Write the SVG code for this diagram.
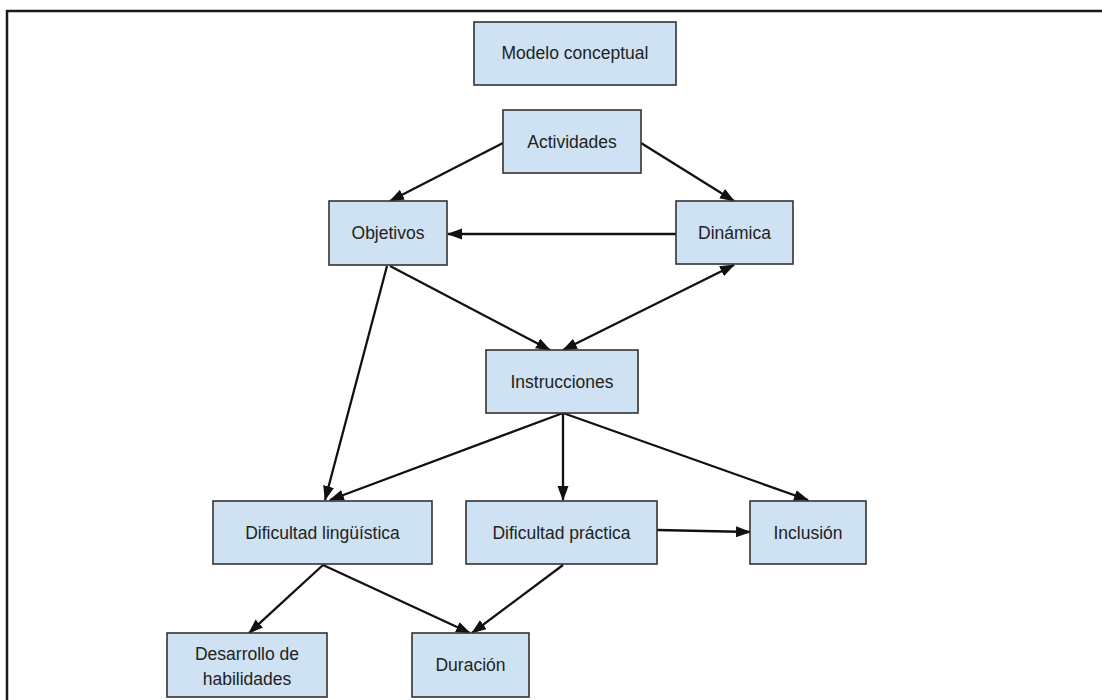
<svg xmlns="http://www.w3.org/2000/svg" width="1102" height="700" viewBox="0 0 1102 700">
<style>
.box{fill:#cfe2f3;stroke:#333;stroke-width:1.6}
.lbl{font-family:"Liberation Sans",Arial,sans-serif;font-size:17.5px;fill:#222;text-anchor:middle}
.edge{stroke:#111;stroke-width:2.3;fill:none}
</style>
<defs>
<marker id="ah" markerUnits="userSpaceOnUse" markerWidth="15" markerHeight="12" refX="14" refY="5.5" orient="auto-start-reverse">
<path d="M0,0 L15,5.5 L0,11 z" fill="#111"/>
</marker>
</defs>
<rect width="1102" height="700" fill="#fff"/>
<path d="M7,700 L7,11 L1102,11" fill="none" stroke="#1a1a1a" stroke-width="2.5"/>
<g id="connectors">
<path class="edge" d="M503,143 L390,201" marker-end="url(#ah)"/>
<path class="edge" d="M641,143 L734,201" marker-end="url(#ah)"/>
<path class="edge" d="M676,234 L448,234" marker-end="url(#ah)"/>
<path class="edge" d="M390,266 L550,350" marker-end="url(#ah)"/>
<path class="edge" d="M563,350 L734,265" marker-start="url(#ah)" marker-end="url(#ah)"/>
<path class="edge" d="M387,266 L325,500" marker-end="url(#ah)"/>
<path class="edge" d="M563,413 L330,500" marker-end="url(#ah)"/>
<path class="edge" d="M563,413 L563,500" marker-end="url(#ah)"/>
<path class="edge" d="M563,413 L808,500" marker-end="url(#ah)"/>
<path class="edge" d="M657,530 L750,532" marker-end="url(#ah)"/>
<path class="edge" d="M323,565 L249,633" marker-end="url(#ah)"/>
<path class="edge" d="M323,565 L470,633" marker-end="url(#ah)"/>
<path class="edge" d="M563,565 L472,633" marker-end="url(#ah)"/>
</g>
<g id="modelo"><rect class="box" x="474" y="22" width="202" height="63"/><text class="lbl" x="575" y="59">Modelo conceptual</text></g>
<g id="actividades"><rect class="box" x="503" y="110" width="138" height="63"/><text class="lbl" x="572" y="148">Actividades</text></g>
<g id="objetivos"><rect class="box" x="329" y="201" width="118" height="64"/><text class="lbl" x="388" y="239">Objetivos</text></g>
<g id="dinamica"><rect class="box" x="676" y="201" width="117" height="63"/><text class="lbl" x="734.5" y="239">Dinámica</text></g>
<g id="instrucciones"><rect class="box" x="486" y="350" width="152" height="63"/><text class="lbl" x="562" y="388">Instrucciones</text></g>
<g id="dif-ling"><rect class="box" x="213" y="501" width="219" height="63"/><text class="lbl" x="322.5" y="539">Dificultad lingüística</text></g>
<g id="dif-prac"><rect class="box" x="466" y="501" width="191" height="63"/><text class="lbl" x="561.5" y="539">Dificultad práctica</text></g>
<g id="inclusion"><rect class="box" x="750" y="501" width="116" height="63"/><text class="lbl" x="808" y="539">Inclusión</text></g>
<g id="desarrollo"><rect class="box" x="167" y="633" width="160" height="64"/><text class="lbl" x="247" y="660">Desarrollo de</text><text class="lbl" x="247" y="685">habilidades</text></g>
<g id="duracion"><rect class="box" x="412" y="633" width="117" height="64"/><text class="lbl" x="470.5" y="671">Duración</text></g>
</svg>
